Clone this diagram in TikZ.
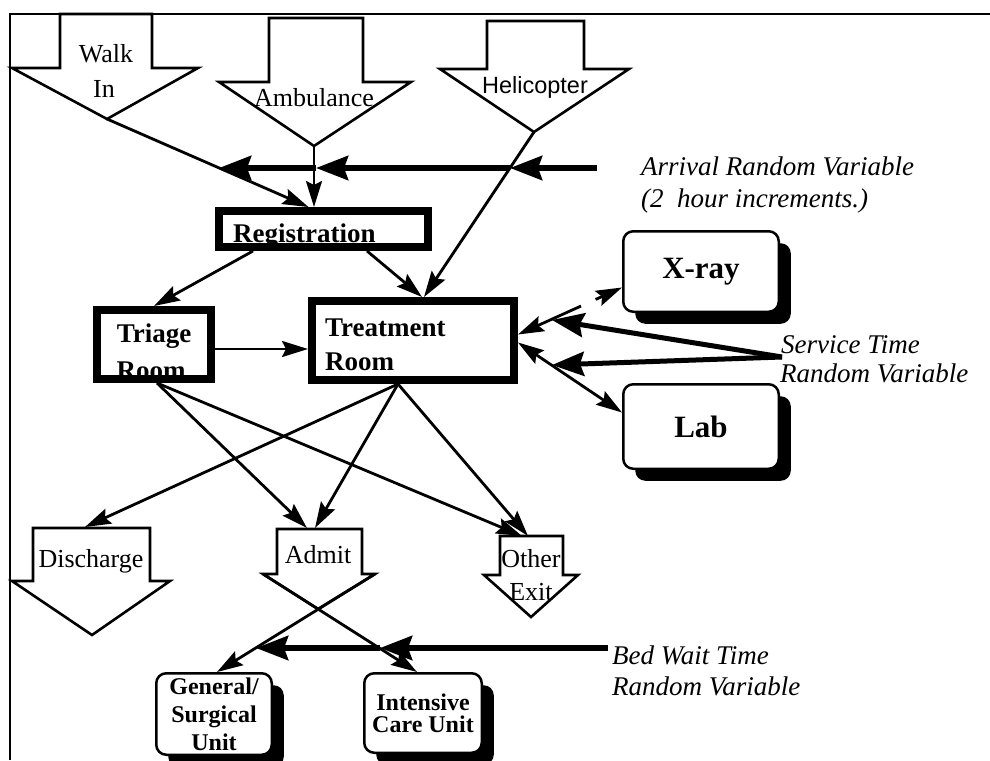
\documentclass[tikz,border=0pt]{standalone}
\usepackage{fontspec}
\setmainfont{Liberation Serif}
\newfontfamily\helvfont{Liberation Sans}
\usetikzlibrary{arrows.meta,calc,shadows}

\begin{document}
\begin{tikzpicture}[x=1pt,y=-1pt,
  flow/.style={line width=2.8pt,-{Stealth[length=26pt,width=16pt,inset=4pt]}},
  twoway/.style={line width=2.8pt,{Stealth[length=26pt,width=16pt,inset=4pt]}-{Stealth[length=26pt,width=16pt,inset=4pt]}},
  rvarrow/.style={line width=6pt,-{Stealth[length=32pt,width=24pt,inset=4pt]}},
  portal/.style={draw,line width=2.6pt,fill=white,line join=miter},
  heavybox/.style={draw,line width=8pt,fill=white,inner sep=0pt},
  unitbox/.style={draw,line width=2.5pt,fill=white,rounded corners=10pt,inner sep=0pt,
    drop shadow={shadow xshift=12pt,shadow yshift=-12pt,fill=black,opacity=1}},
  plain/.style={font=\fontsize{26}{30}\selectfont,inner sep=0pt},
  boxlbl/.style={font=\bfseries\fontsize{27}{30}\selectfont,inner sep=0pt},
  rvtext/.style={font=\itshape\fontsize{27}{32}\selectfont,inner sep=0pt}]

\useasboundingbox (0,0) rectangle (990,760);

% outer frame (top and left edges)
\draw[line width=2.6pt] (10,760) -- (10,14) -- (990,14);

% ---------- entrances ----------
\draw[portal] (60,14) -- (60,68) -- (12,68) -- (107,119) -- (198,68) -- (152,68) -- (152,14) -- cycle;
\draw[portal] (269,18) -- (269,82) -- (219,82) -- (314,146) -- (411,82) -- (363,82) -- (363,18) -- cycle;
\draw[portal] (487,21) -- (487,69) -- (440,69) -- (534,132) -- (629,69) -- (584,69) -- (584,21) -- cycle;
\coordinate (walkTip) at (107,119);
\coordinate (ambTip) at (314,146);
\coordinate (heliTip) at (534,132);

% ---------- exits ----------
\draw[portal] (33,528) -- (33,581) -- (12,581) -- (92,635) -- (170,581) -- (150,581) -- (150,528) -- cycle;
\draw[portal] (277,529) -- (277,574) -- (263,574) -- (318,609) -- (375,574) -- (362,574) -- (362,529) -- cycle;
\draw[portal] (500,536) -- (500,575) -- (484,575) -- (531,617) -- (578,575) -- (563,575) -- (563,536) -- cycle;
\coordinate (admHL) at (263,574);
\coordinate (admHR) at (375,574);

% ---------- process boxes ----------
\node[heavybox,minimum width=209pt,minimum height=36pt] (reg) at (323.5,229) {};
\node[heavybox,minimum width=202pt,minimum height=79pt] (treat) at (413,340.5) {};
\node[heavybox,minimum width=114pt,minimum height=69pt] (triage) at (154,344.5) {};

\node[unitbox,minimum width=155.5pt,minimum height=80.5pt,
      font=\bfseries\fontsize{31}{34}\selectfont] (xray) at (701,271.5) {X-ray};
\node[unitbox,minimum width=155.5pt,minimum height=84.5pt,
      font=\bfseries\fontsize{31}{34}\selectfont] (lab) at (701,426.5) {Lab};
\node[unitbox,minimum width=115.5pt,minimum height=81.5pt,align=center,
      font=\bfseries\fontsize{24}{28}\selectfont] (gen) at (214,714) {General/\\Surgical\\Unit};
\node[unitbox,minimum width=117.5pt,minimum height=79.5pt,align=center,
      font=\bfseries\fontsize{24}{22}\selectfont] (icu) at (423,713) {Intensive\\Care Unit};

% ---------- labels ----------
\node[plain,anchor=base] (walkA) at (106,63) {Walk};
\node[plain,anchor=base] (walkB) at (104,97) {In};
\node[plain,anchor=base] (amb) at (314,106) {Ambulance};
\node[inner sep=0pt,anchor=base,font=\helvfont\fontsize{23.5}{28}\selectfont] (heli) at (535,93) {Helicopter};
\node[plain,anchor=base] (disch) at (91,567) {Discharge};
\node[plain,anchor=base] (admit) at (318,563) {Admit};
\node[plain,anchor=base] (otherA) at (531,567) {Other};
\node[plain,anchor=base] (otherB) at (531,600) {Exit};

\node[boxlbl,anchor=base west] (regtxt) at (233,242) {Registration};
\node[boxlbl,anchor=base west] (treatA) at (325,336) {Treatment};
\node[boxlbl,anchor=base west] (treatB) at (325,370) {Room};
\node[boxlbl,anchor=base] (triA) at (154,342) {Triage};
\node[boxlbl,anchor=base] (triB) at (151,379) {Room};

\node[rvtext,anchor=base west] (arvA) at (641,175) {Arrival Random Variable};
\node[rvtext,anchor=base west] (arvB) at (641,207) {(2\ \ hour increments.)};
\node[rvtext,anchor=base west] (svcA) at (781,353) {Service Time};
\node[rvtext,anchor=base west] (svcB) at (780,382) {Random Variable};
\node[rvtext,anchor=base west] (bedA) at (612,664) {Bed Wait Time};
\node[rvtext,anchor=base west] (bedB) at (612,695) {Random Variable};

% ---------- patient flow ----------
\draw[flow] (walkTip) -- ($(reg.north)+(-15,0)$);
\draw[flow] (ambTip) -- ($(reg.north)+(-9.5,0)$);
\draw[flow] (heliTip) -- ($(treat.north)+(11,0)$);
\draw[flow] ($(reg.south west)+(38,0)$) -- (triage.north);
\draw[flow] ($(reg.south west)+(152,0)$) -- ($(treat.north)+(9,0)$);
\draw[flow] ($(triage.east)+(0,4.5)$) -- ($(treat.west)+(0,8.5)$);

\draw[twoway,dash pattern=on 48pt off 16pt on 300pt off 1pt] ($(treat.east)+(0,-6)$) -- ($(xray.west)+(0,16)$);
\draw[twoway] ($(treat.east)+(0,2)$) -- ($(lab.west)+(0,-14)$);

\draw[flow] ($(treat.south)+(-15,0)$) -- (85,527);
\draw[flow] ($(treat.south)+(-15,0)$) -- (315,528);
\draw[flow] ($(treat.south)+(-15,0)$) -- (528,536);
\draw[flow] ($(triage.south)+(3,0)$) -- (307,528);
\draw[flow] ($(triage.south)+(3,0)$) -- (522,536);

\draw[flow] (admHR) -- ($(gen.north)+(3,0)$);
\draw[flow] (admHL) -- ($(icu.north)+(-6,0)$);

% ---------- random variable inputs ----------
\coordinate (arvSrc) at (597,168);
\coordinate (arvHeli) at (510,168);
\coordinate (arvAmb) at (316,168);
\coordinate (arvWalk) at (219,168);
\draw[rvarrow] (arvSrc) -- (arvHeli);
\draw[rvarrow] (arvHeli) -- (arvAmb);
\draw[rvarrow] (arvAmb) -- (arvWalk);

\coordinate (svcSrc) at (782,357);
\coordinate (svcX) at (552,320);
\coordinate (svcL) at (552,365);
\draw[rvarrow,line width=5pt] (svcSrc) -- (svcX);
\draw[rvarrow,line width=5pt] (svcSrc) -- (svcL);

\coordinate (bedSrc) at (608,648);
\coordinate (bedICU) at (380,648);
\coordinate (bedGen) at (256,648);
\draw[rvarrow] (bedSrc) -- (bedICU);
\draw[rvarrow] (bedICU) -- (bedGen);

\end{tikzpicture}
\end{document}
